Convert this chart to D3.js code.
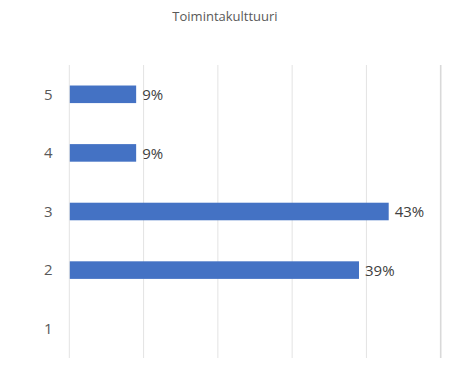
<!DOCTYPE html>
<html>
<head>
<meta charset="utf-8">
<script src="https://cdn.jsdelivr.net/npm/d3@7"></script>
<style>
  html, body { margin: 0; padding: 0; background: #fff; }
  svg { display: block; }
</style>
</head>
<body>
<svg id="chart" width="451" height="379"></svg>
<script>
const title = "Toimintakulttuuri";
const categories = ["5", "4", "3", "2", "1"];
const values = [9, 9, 43, 39, null];
const xTicks = [0, 10, 20, 30, 40, 50];

(function () {
const svg = d3.select("#chart");
const font = "'Open Sans', 'Noto Sans', sans-serif";
const plotLeft = 69.3, plotRight = 440.7, plotTop = 65, plotBottom = 358;

const x = d3.scaleLinear().domain([0, 50]).range([plotLeft, plotRight]);
const y = d3.scaleBand().domain(categories).range([plotTop, plotBottom]).paddingInner(0.7).paddingOuter(0.35);

// gridlines
svg.append("g").selectAll("line").data(xTicks).join("line")
  .attr("x1", d => x(d)).attr("x2", d => x(d))
  .attr("y1", plotTop).attr("y2", plotBottom)
  .attr("stroke", (d, i) => i === xTicks.length - 1 ? "#d9d9d9" : "#e3e3e3")
  .attr("stroke-width", (d, i) => i === xTicks.length - 1 ? 1.6 : 1);

// bars
const data = categories.map((c, i) => ({ c, v: values[i] }));
svg.append("g").selectAll("rect").data(data.filter(d => d.v != null)).join("rect")
  .attr("x", x(0) + 0.5)
  .attr("y", d => y(d.c))
  .attr("width", d => x(d.v) - x(0) - 0.5)
  .attr("height", y.bandwidth())
  .attr("fill", "#4472c4");

// value labels
svg.append("g").selectAll("text").data(data.filter(d => d.v != null)).join("text")
  .attr("x", d => x(d.v) + 6)
  .attr("y", d => y(d.c) + y.bandwidth() / 2)
  .attr("dy", "0.38em")
  .attr("font-family", font).attr("font-size", 15)
  .attr("fill", "#404040")
  .text(d => d.v + "%");

// category axis
const yAxis = d3.axisLeft(d3.scalePoint().domain(categories).range([plotTop, plotBottom]).padding(0.5))
  .tickSize(0).tickPadding(0);
const ya = svg.append("g").attr("transform", `translate(${52.5},0)`).call(yAxis);
ya.select(".domain").remove();
ya.selectAll("text").attr("font-family", font).attr("font-size", 15).attr("fill", "#595959");

// title
svg.append("text")
  .attr("x", 225).attr("y", 21)
  .attr("text-anchor", "middle")
  .attr("font-family", font).attr("font-size", 13)
  .attr("fill", "#595959")
  .text(title);
})();
</script>
</body>
</html>
